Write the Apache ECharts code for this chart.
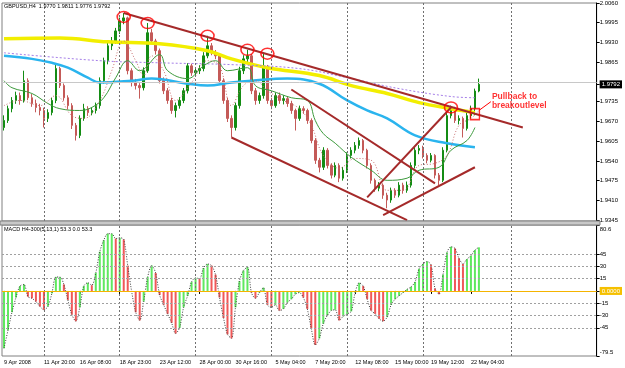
<!DOCTYPE html>
<html>
<head>
<meta charset="utf-8">
<script src="https://cdn.jsdelivr.net/npm/echarts@6/dist/echarts.min.js"></script>
<style>
  html, body { margin: 0; padding: 0; background: #fff; }
  #chart { width: 625px; height: 368px; }
</style>
</head>
<body>
<div id="chart"></div>
<script>
const FONT = "'Liberation Sans', Arial, sans-serif";
const SLOTS = 149; // bar slots across the window, data fills the first 120

// GBPUSD H4 candles: [open, close, low, high]
const candles = [
  [1.9650,1.9673,1.9640,1.9690],[1.9673,1.9712,1.9665,1.9722],[1.9712,1.9739,1.9700,1.9750],[1.9739,1.9755,1.9728,1.9768],
  [1.9755,1.9739,1.9725,1.9765],[1.9739,1.9804,1.9732,1.9837],[1.9804,1.9748,1.9740,1.9812],[1.9748,1.9729,1.9718,1.9760],
  [1.9729,1.9716,1.9700,1.9742],[1.9716,1.9706,1.9690,1.9728],[1.9706,1.9680,1.9650,1.9715],[1.9680,1.9699,1.9668,1.9710],
  [1.9699,1.9739,1.9690,1.9748],[1.9739,1.9844,1.9730,1.9860],[1.9844,1.9788,1.9780,1.9850],[1.9788,1.9748,1.9738,1.9795],
  [1.9748,1.9722,1.9710,1.9756],[1.9722,1.9657,1.9645,1.9730],[1.9657,1.9624,1.9607,1.9665],[1.9624,1.9680,1.9615,1.9690],
  [1.9680,1.9712,1.9672,1.9728],[1.9712,1.9699,1.9688,1.9720],[1.9699,1.9706,1.9690,1.9716],[1.9706,1.9722,1.9696,1.9732],
  [1.9722,1.9804,1.9712,1.9815],[1.9804,1.9870,1.9795,1.9880],[1.9870,1.9919,1.9858,1.9930],[1.9919,1.9935,1.9905,1.9948],
  [1.9935,1.9968,1.9925,1.9978],[1.9968,2.0001,1.9958,2.0012],[2.0001,2.0011,1.9990,2.0027],[2.0011,1.9837,1.9825,2.0015],
  [1.9837,1.9798,1.9785,1.9845],[1.9798,1.9788,1.9775,1.9810],[1.9788,1.9781,1.9745,1.9796],[1.9781,1.9837,1.9772,1.9848],
  [1.9837,1.9962,1.9830,1.9994],[1.9962,1.9935,1.9925,1.9975],[1.9935,1.9903,1.9890,1.9942],[1.9903,1.9804,1.9795,1.9910],
  [1.9804,1.9771,1.9760,1.9815],[1.9771,1.9739,1.9728,1.9780],[1.9739,1.9706,1.9695,1.9748],[1.9706,1.9722,1.9683,1.9732],
  [1.9722,1.9739,1.9712,1.9750],[1.9739,1.9771,1.9730,1.9780],[1.9771,1.9853,1.9762,1.9862],[1.9853,1.9830,1.9820,1.9860],
  [1.9830,1.9837,1.9822,1.9848],[1.9837,1.9844,1.9826,1.9855],[1.9844,1.9886,1.9835,1.9898],[1.9886,1.9919,1.9878,1.9952],
  [1.9919,1.9896,1.9888,1.9928],[1.9896,1.9886,1.9875,1.9905],[1.9886,1.9804,1.9795,1.9892],[1.9804,1.9739,1.9728,1.9812],
  [1.9739,1.9680,1.9668,1.9748],[1.9680,1.9650,1.9617,1.9690],[1.9650,1.9722,1.9640,1.9732],[1.9722,1.9837,1.9712,1.9850],
  [1.9837,1.9876,1.9826,1.9888],[1.9876,1.9886,1.9862,1.9906],[1.9886,1.9771,1.9760,1.9892],[1.9771,1.9739,1.9725,1.9780],
  [1.9739,1.9755,1.9728,1.9765],[1.9755,1.9850,1.9745,1.9893],[1.9850,1.9739,1.9728,1.9856],[1.9739,1.9722,1.9710,1.9748],
  [1.9722,1.9755,1.9715,1.9765],[1.9755,1.9739,1.9728,1.9765],[1.9739,1.9745,1.9726,1.9756],[1.9745,1.9729,1.9718,1.9752],
  [1.9729,1.9706,1.9695,1.9738],[1.9706,1.9680,1.9640,1.9712],[1.9680,1.9712,1.9672,1.9722],[1.9712,1.9706,1.9695,1.9720],
  [1.9706,1.9673,1.9662,1.9712],[1.9673,1.9607,1.9598,1.9680],[1.9607,1.9542,1.9530,1.9615],[1.9542,1.9519,1.9502,1.9550],
  [1.9519,1.9575,1.9510,1.9585],[1.9575,1.9525,1.9515,1.9582],[1.9525,1.9493,1.9482,1.9532],[1.9493,1.9525,1.9486,1.9535],
  [1.9525,1.9483,1.9470,1.9532],[1.9483,1.9509,1.9475,1.9520],[1.9509,1.9558,1.9500,1.9568],[1.9558,1.9575,1.9548,1.9585],
  [1.9575,1.9591,1.9565,1.9602],[1.9591,1.9607,1.9580,1.9617],[1.9607,1.9575,1.9565,1.9612],[1.9575,1.9525,1.9515,1.9580],
  [1.9525,1.9476,1.9465,1.9532],[1.9476,1.9450,1.9438,1.9482],[1.9450,1.9460,1.9440,1.9470],[1.9460,1.9427,1.9415,1.9466],
  [1.9427,1.9411,1.9384,1.9435],[1.9411,1.9443,1.9402,1.9452],[1.9443,1.9427,1.9418,1.9450],[1.9427,1.9460,1.9420,1.9470],
  [1.9460,1.9443,1.9432,1.9468],[1.9443,1.9460,1.9435,1.9472],[1.9460,1.9525,1.9452,1.9535],[1.9525,1.9575,1.9515,1.9585],
  [1.9575,1.9581,1.9562,1.9592],[1.9581,1.9558,1.9548,1.9590],[1.9558,1.9542,1.9532,1.9565],[1.9542,1.9558,1.9535,1.9566],
  [1.9558,1.9493,1.9482,1.9562],[1.9493,1.9476,1.9460,1.9500],[1.9476,1.9575,1.9470,1.9585],[1.9575,1.9689,1.9568,1.9698],
  [1.9689,1.9712,1.9680,1.9722],[1.9712,1.9673,1.9665,1.9718],[1.9673,1.9680,1.9660,1.9690],[1.9680,1.9647,1.9617,1.9686],
  [1.9647,1.9689,1.9640,1.9698],[1.9689,1.9712,1.9680,1.9722],[1.9712,1.9770,1.9690,1.9778],[1.9770,1.9792,1.9766,1.9811]
];

// moving averages: [bar index, price]
const maYellow = [[0,1.9942],[14,1.9945],[26,1.9932],[39,1.9926],[51,1.9903],[57,1.9876],[66,1.9847],[79,1.9821],[87,1.9788],[96,1.9762],[104,1.9732],[112,1.9712],[118,1.9699]];
const maBlue = [[0,1.9886],[7,1.9876],[12,1.9863],[16,1.9847],[21,1.9814],[24,1.9798],[32,1.9804],[37,1.9811],[46,1.9794],[51,1.9788],[57,1.9798],[62,1.9804],[71,1.9811],[79,1.9794],[86,1.9739],[91,1.9706],[96,1.9680],[103,1.9624],[111,1.9598],[118,1.9585]];
const maPurple = [[0,1.9896],[24,1.9870],[39,1.9863],[57,1.9857],[74,1.9844],[86,1.9814],[99,1.9778],[112,1.9752],[118,1.9748]];
const maGreen = [[0,1.9804],[2,1.9781],[7,1.9762],[11,1.9729],[14,1.9712],[19,1.9706],[22,1.9716],[25,1.9748],[28,1.9814],[31,1.9870],[34,1.9837],[39,1.9890],[41,1.9837],[46,1.9811],[50,1.9853],[53,1.9870],[56,1.9837],[61,1.9847],[63,1.9788],[67,1.9771],[72,1.9748],[76,1.9739],[78,1.9673],[80,1.9630],[83,1.9598],[87,1.9552],[92,1.9509],[96,1.9476],[101,1.9483],[104,1.9509],[109,1.9519],[112,1.9575],[116,1.9607],[118,1.9650]];
const maFast = [[0,1.9722],[4,1.9739],[9,1.9722],[13,1.9755],[17,1.9689],[20,1.9680],[24,1.9739],[27,1.9837],[30,1.9935],[33,1.9870],[35,1.9821],[37,1.9886],[40,1.9837],[43,1.9739],[47,1.9798],[51,1.9870],[54,1.9853],[57,1.9722],[60,1.9788],[63,1.9804],[66,1.9771],[70,1.9739],[74,1.9712],[77,1.9657],[80,1.9558],[84,1.9516],[88,1.9548],[92,1.9542],[96,1.9443],[100,1.9443],[104,1.9525],[108,1.9532],[111,1.9558],[114,1.9657],[117,1.9680],[119,1.9706]];

// hand drawn trend lines: [bar1, price1, bar2, price2]
const trendLines = [
  [30,2.0027,130,1.9650],
  [57,1.9617,101,1.9345],
  [72,1.9775,108,1.9466],
  [91,1.9420,112,1.9716],
  [95,1.9361,118,1.9519]
];
const circleMarks = [[30,2.0014],[36,1.9994],[51,1.9952],[61,1.9906],[66,1.9893],[112,1.9716]];
const squareMark = [[118,1.9694]];
const pointerLine = [[119,1.9706],[122,1.9735]];
const noteAnchor = [[122,1.9737]];
const noteText = 'Pullback to\nbreakoutlevel';

// MACD(5,13,1) histogram, one value per bar
const macdValues = [
  -70,-48,-26,-8,6,8,-7,-9,-13,-19,-23,-19,-3,17,17,8,-11,-29,-37,-20,
  6,10,7,22,48,62,70,70,64,65,63,31,-1,-26,-36,-13,17,31,22,-5,
  -17,-28,-39,-52,-45,-20,-6,11,16,15,28,33,31,20,-8,-33,-53,-58,-20,12,
  25,29,-2,-9,-2,4,-17,-20,-17,-24,-22,-14,-10,-4,-2,-8,-22,-46,-66,-58,
  -40,-30,-24,-23,-36,-31,-28,-25,-2,10,6,-10,-24,-28,-34,-37,-32,-17,-10,-6,
  -2,2,5,11,27,33,36,32,3,-4,20,47,54,52,40,33,39,43,50,53.3
];

const priceTicks = [2.0060,1.9995,1.9930,1.9865,1.9792,1.9735,1.9670,1.9605,1.9540,1.9475,1.9410,1.9345];
const lastPrice = 1.9792;
const macdTicks = [80.6,45,30,15,0,-15,-30,-45,-79.5];
const macdLevels = [45,30,15,-15,-30,-45];
const timeLabels = ['9 Apr 2008','11 Apr 20:00','16 Apr 08:00','18 Apr 23:00','23 Apr 12:00','28 Apr 00:00','30 Apr 16:00','5 May 04:00','7 May 20:00','12 May 08:00','15 May 00:00','19 May 12:00','22 May 04:00'];
const timeLabelSlots = [0,10,19,29,39,49,58,68,78,88,98,107,117];
const gridSlots = [10,29,48,67,86,105,127];

const categories = Array.from({ length: SLOTS }, (_, i) => String(i));

const vGrid = gridSlots.map(i => ({ xAxis: i }));
const ellipse = 'path://M0,10A10,10 0 1,1 20,10A10,10 0 1,1 0,10Z';

const chart = echarts.init(document.getElementById('chart'), null, { renderer: 'canvas' });

const maSeries = (data, color, width, type, z) => ({
  type: 'line', xAxisIndex: 0, yAxisIndex: 0, data, smooth: 0.4,
  symbol: 'none', silent: true, z,
  lineStyle: { color, width, type }
});

chart.setOption({
  animation: false,
  backgroundColor: '#fff',
  title: [
    { text: 'GBPUSD,H4  1.9770 1.9811 1.9776 1.9792', left: 4, top: 3, padding: 0,
      textStyle: { fontFamily: FONT, fontSize: 5.5, fontWeight: 'normal', color: '#000' } },
    { text: 'MACD H4-300(5,13,1) 53.3 0.0 53.3', left: 4, top: 226, padding: 0,
      textStyle: { fontFamily: FONT, fontSize: 5.5, fontWeight: 'normal', color: '#000' } }
  ],
  graphic: [
    { type: 'rect', shape: { x: 0, y: 221, width: 600, height: 4 },
      style: { fill: '#c8c8c8', stroke: '#808080', lineWidth: 1 }, z: 10 }
  ],
  grid: [
    { left: 2, top: 2, width: 598, height: 219, show: true, borderColor: '#808080', backgroundColor: '#fff' },
    { left: 2, top: 225, width: 598, height: 131, show: true, borderColor: '#808080', backgroundColor: '#fff' }
  ],
  xAxis: [
    { type: 'category', gridIndex: 0, data: categories, boundaryGap: true,
      axisLine: { show: false }, axisTick: { show: false }, axisLabel: { show: false }, splitLine: { show: false } },
    { type: 'category', gridIndex: 1, data: categories, boundaryGap: true,
      axisLine: { show: false },
      axisTick: { show: true, alignWithLabel: true, length: 3, interval: i => timeLabelSlots.includes(i), lineStyle: { color: '#000' } },
      axisLabel: {
        interval: i => timeLabelSlots.includes(i),
        formatter: v => timeLabels[timeLabelSlots.indexOf(Number(v))] || '',
        align: 'left', margin: 3, fontFamily: FONT, fontSize: 5.5, color: '#000'
      },
      splitLine: { show: false } }
  ],
  yAxis: [
    { type: 'value', gridIndex: 0, position: 'right', min: 1.9342, max: 2.0060,
      splitLine: { show: false },
      axisLine: { show: true, lineStyle: { color: '#000' } },
      axisTick: { show: true, length: 3, customValues: priceTicks, lineStyle: { color: '#000' } },
      axisLabel: {
        customValues: priceTicks, margin: 3, fontFamily: FONT, fontSize: 6, color: '#000',
        formatter: v => Math.abs(v - lastPrice) < 1e-6 ? '{cur|' + v.toFixed(4) + '}' : v.toFixed(4),
        rich: { cur: { backgroundColor: '#000', color: '#fff', padding: [1, 2], fontFamily: FONT, fontSize: 6 } }
      } },
    { type: 'value', gridIndex: 1, position: 'right', min: -79.5, max: 80.6,
      splitLine: { show: false },
      axisLine: { show: true, lineStyle: { color: '#000' } },
      axisTick: { show: true, length: 3, customValues: macdTicks, lineStyle: { color: '#000' } },
      axisLabel: {
        customValues: macdTicks, margin: 3, fontFamily: FONT, fontSize: 6, color: '#000',
        formatter: v => {
          if (v === 0) return '{zero|0.0000}';
          if (v === 80.6) return '{top|80.6}';
          if (v === -79.5) return '{bot|-79.5}';
          return String(v);
        },
        rich: {
          zero: { backgroundColor: '#f5c000', color: '#fff', padding: [1, 2], fontFamily: FONT, fontSize: 6 },
          top: { padding: [8, 0, 0, 0], fontFamily: FONT, fontSize: 6 },
          bot: { padding: [0, 0, 7, 0], fontFamily: FONT, fontSize: 6 }
        }
      } }
  ],
  series: [
    {
      type: 'candlestick', xAxisIndex: 0, yAxisIndex: 0, data: candles,
      barWidth: 2, z: 2,
      itemStyle: { color: '#148c14', color0: '#c45a58', borderColor: '#148c14', borderColor0: '#c45a58', borderWidth: 1 },
      markLine: {
        silent: true, symbol: 'none', label: { show: false },
        data: [
          ...vGrid.map(d => ({ ...d, lineStyle: { color: '#707070', type: [2, 2], width: 1 } })),
          { yAxis: lastPrice, lineStyle: { color: '#c8c8c8', type: 'solid', width: 1 } }
        ]
      }
    },
    maSeries(maYellow, '#f2ee00', 3.5, 'solid', 3),
    maSeries(maBlue, '#2ab4ee', 2.5, 'solid', 3),
    maSeries(maPurple, '#a57ee8', 1, [2, 2], 3),
    maSeries(maGreen, '#3c9a3c', 1, 'solid', 3),
    maSeries(maFast, '#c87070', 1, [1, 2], 3),
    ...trendLines.map(t => ({
      type: 'line', xAxisIndex: 0, yAxisIndex: 0, symbol: 'none', silent: true, z: 5,
      data: [[t[0], t[1]], [t[2], t[3]]],
      lineStyle: { color: '#a52a2a', width: 2 }
    })),
    {
      type: 'line', xAxisIndex: 0, yAxisIndex: 0, symbol: 'none', silent: true, z: 6,
      data: pointerLine, lineStyle: { color: '#ff0000', width: 1 }
    },
    {
      type: 'scatter', xAxisIndex: 0, yAxisIndex: 0, silent: true, z: 6,
      data: circleMarks, symbol: ellipse, symbolSize: [13, 11],
      itemStyle: { color: 'none', borderColor: '#ff0000', borderWidth: 1.5 }
    },
    {
      type: 'scatter', xAxisIndex: 0, yAxisIndex: 0, silent: true, z: 6,
      data: squareMark, symbol: 'rect', symbolSize: [9, 11],
      itemStyle: { color: 'none', borderColor: '#ff0000', borderWidth: 1.5 }
    },
    {
      type: 'scatter', xAxisIndex: 0, yAxisIndex: 0, silent: true, z: 7,
      data: noteAnchor, symbolSize: 0,
      label: {
        show: true, position: 'right', distance: 1, formatter: noteText,
        color: '#ff0000', fontFamily: FONT,
        fontWeight: 'bold', fontSize: 8.5, lineHeight: 9, align: 'left'
      }
    },
    {
      type: 'bar', xAxisIndex: 1, yAxisIndex: 1, barWidth: 2, z: 2,
      data: macdValues.map((v, i) => ({
        value: v,
        itemStyle: { color: (i === 0 || v >= macdValues[i - 1]) ? '#5fe85f' : '#f05858' }
      })),
      markLine: {
        silent: true, symbol: 'none', label: { show: false },
        data: [
          ...vGrid.map(d => ({ ...d, lineStyle: { color: '#707070', type: [2, 2], width: 1 } })),
          ...macdLevels.map(v => ({ yAxis: v, lineStyle: { color: '#a0a0a0', type: [2, 2], width: 1 } })),
          { yAxis: 0, lineStyle: { color: '#f5b400', type: 'solid', width: 1 } }
        ]
      }
    },
    {
      type: 'line', xAxisIndex: 1, yAxisIndex: 1, data: macdValues, smooth: 0.3,
      symbol: 'none', silent: true, z: 3,
      lineStyle: { color: '#404040', width: 1, type: [1, 1.5] }
    }
  ]
});
</script>
</body>
</html>
